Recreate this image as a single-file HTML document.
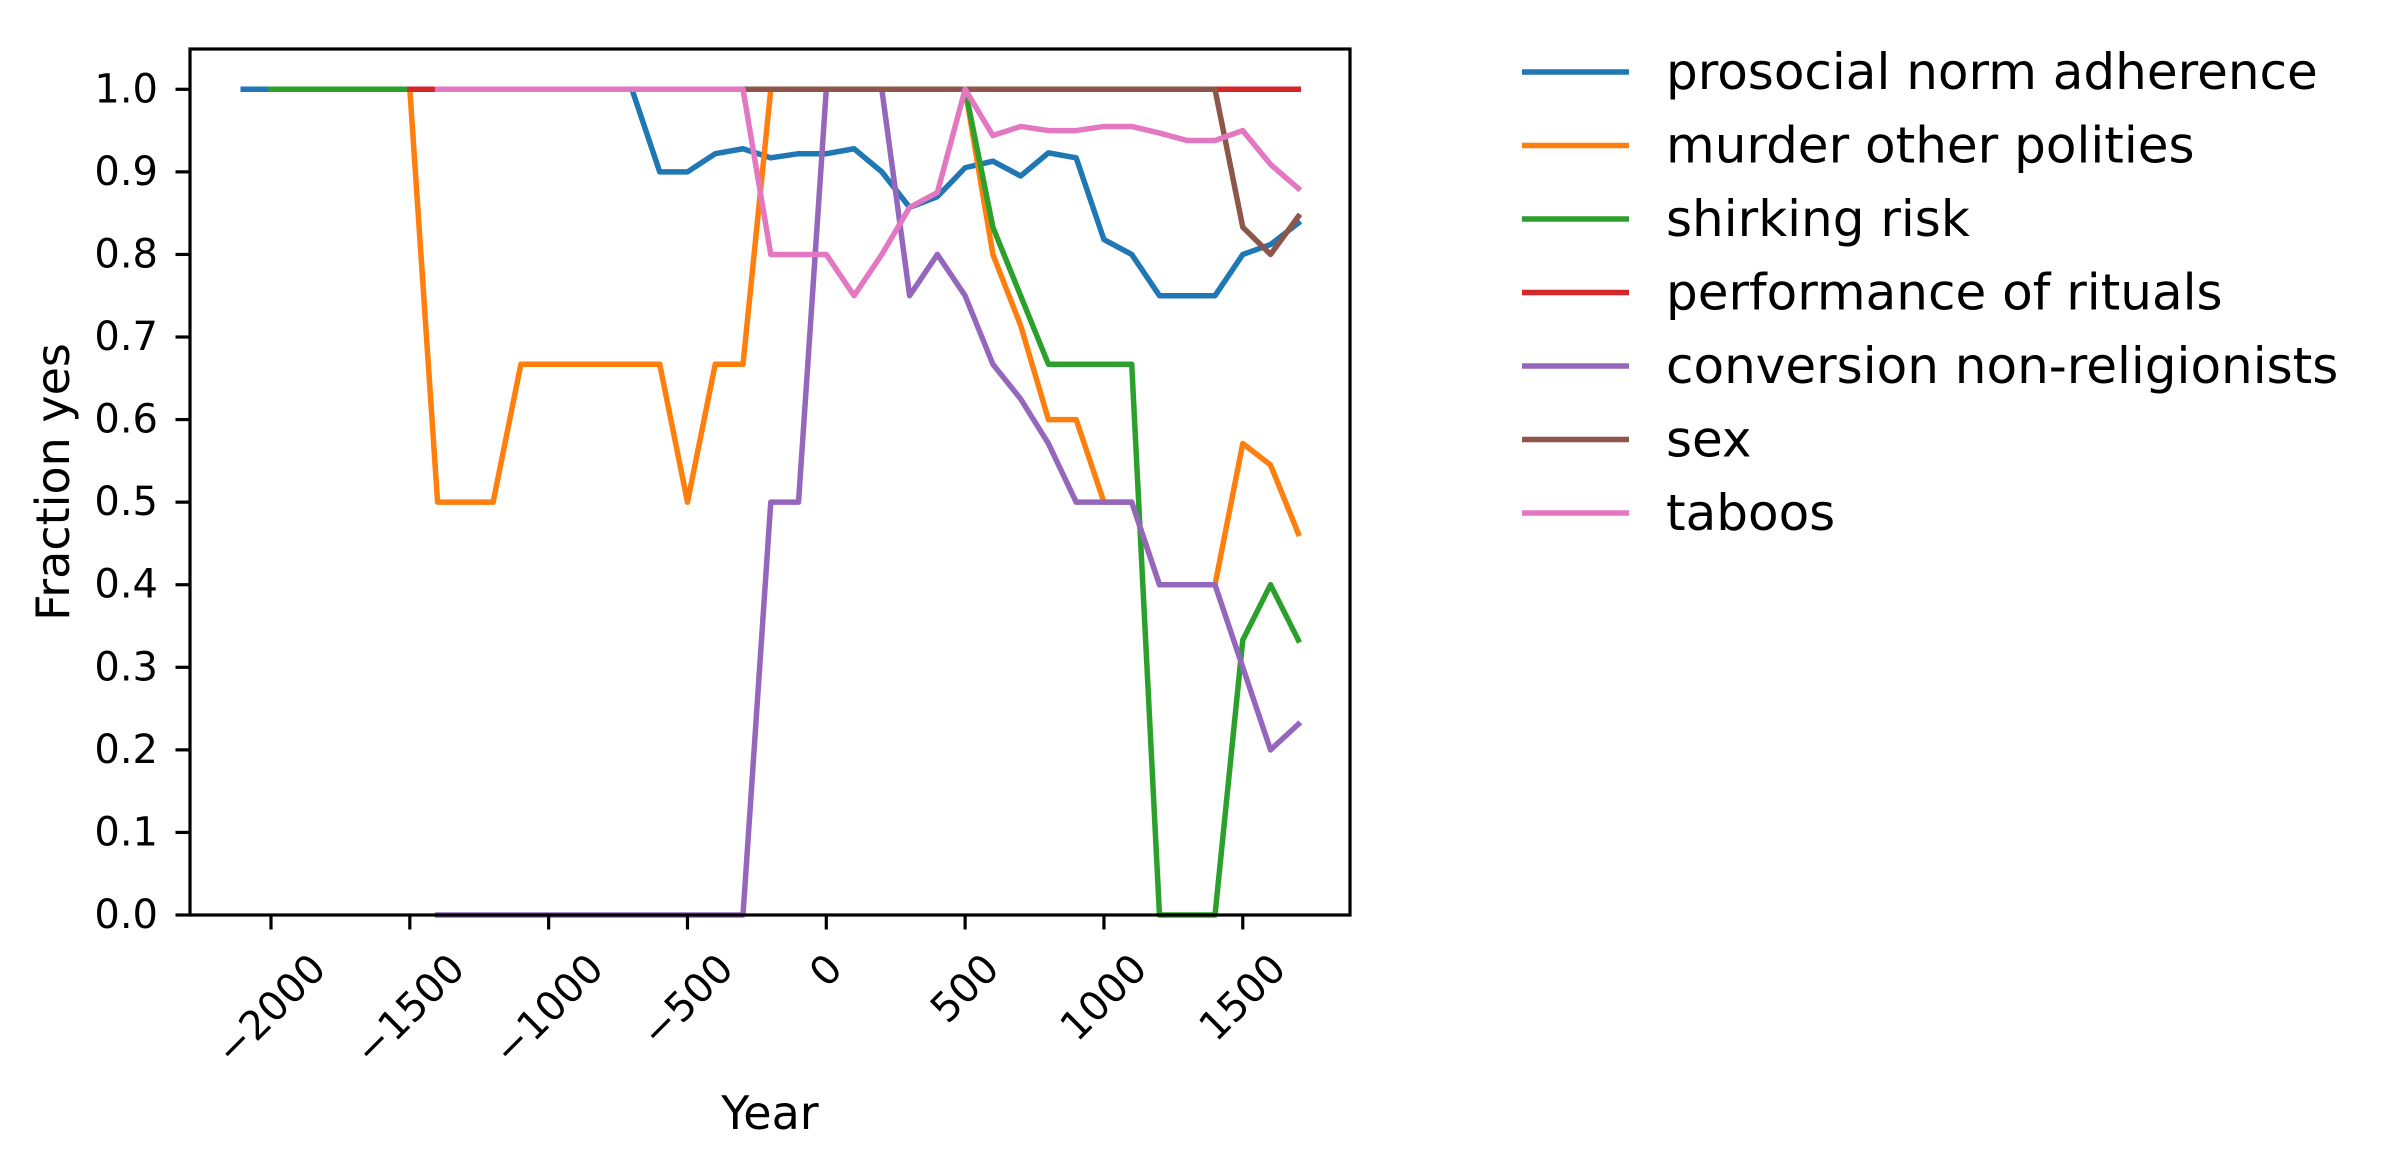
<!DOCTYPE html>
<html><head><meta charset="utf-8"><style>
html,body{margin:0;padding:0;background:#fff;}
svg{display:block;font-family:"DejaVu Sans","Liberation Sans",sans-serif;}
</style></head><body>
<svg id="chart" width="2387" height="1167" viewBox="0 0 2387 1167" xmlns="http://www.w3.org/2000/svg">
<rect width="2387" height="1167" fill="#fff"/>
<g id="plot"></g>
<g id="axes"></g>
<g id="legend"></g>
</svg>
<script>
const years = [-2100,-2000,-1900,-1800,-1700,-1600,-1500,-1400,-1300,-1200,-1100,-1000,-900,-800,-700,-600,-500,-400,-300,-200,-100,0,100,200,300,400,500,600,700,800,900,1000,1100,1200,1300,1400,1500,1600,1700];
const seriesNames = ["prosocial norm adherence","murder other polities","shirking risk","performance of rituals","conversion non-religionists","sex","taboos"];
const seriesColors = ["#1f77b4","#ff7f0e","#2ca02c","#d62728","#9467bd","#8c564b","#e377c2"];
const N = null;
const prosocial = [1,1,1,1,1,1,1,1,1,1,1,1,1,1,1,0.9,0.9,0.922,0.928,0.917,0.922,0.922,0.928,0.9,0.857,0.87,0.905,0.913,0.895,0.923,0.917,0.818,0.8,0.75,0.75,0.75,0.8,0.812,0.838];
const murder = [N,N,N,N,N,N,1,0.5,0.5,0.5,0.667,0.667,0.667,0.667,0.667,0.667,0.5,0.667,0.667,1,1,1,1,1,1,1,1,0.8,0.714,0.6,0.6,0.5,0.5,0.4,0.4,0.4,0.571,0.545,0.462];
const shirking = [N,1,1,1,1,1,1,1,1,1,1,1,1,1,1,1,1,1,1,1,1,1,1,1,1,1,1,0.833,0.75,0.667,0.667,0.667,0.667,0,0,0,0.333,0.4,0.333];
const rituals = [N,N,N,N,N,N,1,1,1,1,1,1,1,1,1,1,1,1,1,1,1,1,1,1,1,1,1,1,1,1,1,1,1,1,1,1,1,1,1];
const conversion = [N,N,N,N,N,N,N,0,0,0,0,0,0,0,0,0,0,0,0,0.5,0.5,1,1,1,0.75,0.8,0.75,0.667,0.625,0.571,0.5,0.5,0.5,0.4,0.4,0.4,0.3,0.2,0.231];
const sex = [N,N,N,N,N,N,N,N,N,N,N,N,N,N,N,N,N,N,1,1,1,1,1,1,1,1,1,1,1,1,1,1,1,1,1,1,0.833,0.8,0.846];
const taboos = [N,N,N,N,N,N,N,1,1,1,1,1,1,1,1,1,1,1,1,0.8,0.8,0.8,0.75,0.8,0.857,0.875,1,0.944,0.955,0.95,0.95,0.955,0.955,0.947,0.938,0.938,0.95,0.909,0.88];
const xTicks = [-2000,-1500,-1000,-500,0,500,1000,1500];
const xTickLabels = ["\u22122000","\u22121500","\u22121000","\u2212500","0","500","1000","1500"];
const yTicks = [0,0.1,0.2,0.3,0.4,0.5,0.6,0.7,0.8,0.9,1.0];
const yTickLabels = ["0.0","0.1","0.2","0.3","0.4","0.5","0.6","0.7","0.8","0.9","1.0"];
const allSeries = [prosocial,murder,shirking,rituals,conversion,sex,taboos];

const NS = "http://www.w3.org/2000/svg";
const L = 190, R = 1350, T = 49, B = 915;
function xs(v){ return 271 + (v + 2000) * 0.27765; }
function ys(v){ return 915 - v * 825.7; }
function mk(tag, attrs, parent){ const e = document.createElementNS(NS, tag); for (const k in attrs) e.setAttribute(k, attrs[k]); parent.appendChild(e); return e; }

const plot = document.getElementById('plot');
const axes = document.getElementById('axes');
const legend = document.getElementById('legend');

allSeries.forEach((vals, si) => {
  let d = "";
  let pen = false;
  vals.forEach((v, i) => {
    if (v === null) { pen = false; return; }
    d += (pen ? "L" : "M") + xs(years[i]).toFixed(2) + " " + ys(v).toFixed(2) + " ";
    pen = true;
  });
  const p = mk('path', {d: d, fill: 'none', stroke: seriesColors[si], 'stroke-width': 5.5, 'stroke-linejoin': 'round', 'stroke-linecap': 'square'}, plot);
  
  
});

const frame = mk('rect', {x: L, y: T, width: R - L, height: B - T, fill: 'none', stroke: '#000', 'stroke-width': 3.2}, axes);



yTicks.forEach((v, i) => {
  const y = ys(v);
  const t = mk('line', {x1: L - 14.5, x2: L, y1: y, y2: y, stroke: '#000', 'stroke-width': 3.2}, axes);
  
  
  const tx = mk('text', {x: 158, y: y, 'text-anchor': 'end', 'dominant-baseline': 'central', 'font-size': 40, fill: '#000'}, axes);
  tx.textContent = yTickLabels[i];
  
  
});

xTicks.forEach((v, i) => {
  const x = xs(v);
  const t = mk('line', {x1: x, x2: x, y1: B, y2: B + 14.5, stroke: '#000', 'stroke-width': 3.2}, axes);
  
  
  const tx = mk('text', {x: x, y: 0, 'text-anchor': 'middle', 'dominant-baseline': 'central', 'font-size': 40, fill: '#000'}, axes);
  tx.textContent = xTickLabels[i];
  
  
  const len = tx.getComputedTextLength();
  const cy = 947 + (len + 42) * 0.7071 / 2;
  tx.setAttribute('y', cy);
  tx.setAttribute('transform', 'rotate(-45 ' + x + ' ' + cy + ')');
});

const xl = mk('text', {x: 770, y: 1113, 'text-anchor': 'middle', 'dominant-baseline': 'central', 'font-size': 46, fill: '#000'}, axes);
xl.textContent = 'Year';


const yl = mk('text', {x: 53, y: 482, 'text-anchor': 'middle', 'dominant-baseline': 'central', 'font-size': 46, fill: '#000', transform: 'rotate(-90 53 482)'}, axes);
yl.textContent = 'Fraction yes';



seriesNames.forEach((name, i) => {
  const y = 72 + i * 73.5;
  const g = mk('g', {}, legend);
  
  
  mk('line', {x1: 1522, x2: 1629, y1: y, y2: y, stroke: seriesColors[i], 'stroke-width': 5.5}, g);
  const t = mk('text', {x: 1666, y: y, 'dominant-baseline': 'central', 'font-size': 50, fill: '#000'}, g);
  t.textContent = name;
});
</script>
</body></html>
